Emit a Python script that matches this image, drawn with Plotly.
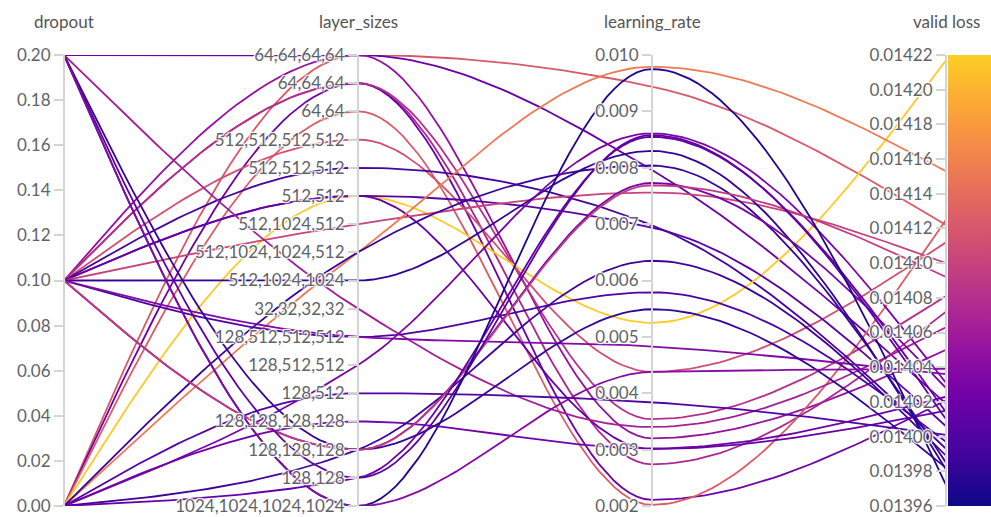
import numpy as np
import plotly.graph_objects as go
from plotly.colors import sample_colorscale

# ---- data -------------------------------------------------------------
axis_names = ["dropout", "layer_sizes", "learning_rate", "valid loss"]

# layer_sizes categories, listed from the top of the axis to the bottom
layer_order = [
    "64,64,64,64", "64,64,64", "64,64",
    "512,512,512,512", "512,512,512", "512,512",
    "512,1024,512", "512,1024,1024,512", "512,1024,1024",
    "32,32,32,32", "128,512,512,512", "128,512,512", "128,512",
    "128,128,128,128", "128,128,128", "128,128",
    "1024,1024,1024,1024",
]

dropout = [0.0, 0.2, 0.1, 0.1, 0.0, 0.1, 0.0, 0.1, 0.1, 0.0,
           0.1, 0.1, 0.1, 0.0, 0.0, 0.1, 0.2, 0.1, 0.1, 0.0,
           0.0, 0.0, 0.2, 0.1, 0.0, 0.1, 0.2, 0.0, 0.2, 0.2]

layer_sizes = [
    "64,64,64,64", "64,64,64,64", "64,64,64,64", "64,64,64", "64,64,64",
    "64,64,64", "64,64", "512,512,512,512", "512,512,512", "512,512",
    "512,512", "512,512", "512,1024,512", "512,1024,1024,512", "512,1024,1024,512",
    "512,1024,1024", "32,32,32,32", "128,512,512,512", "128,512,512,512", "128,512,512",
    "128,512", "128,128,128,128", "128,128,128", "128,128,128", "128,128,128",
    "128,128,128", "128,128", "128,128", "1024,1024,1024,1024", "1024,1024,1024,1024",
]

learning_rate = [0.00944, 0.00796, 0.00320, 0.00274, 0.00211, 0.00354, 0.00202, 0.00438, 0.00698, 0.00525,
                 0.00694, 0.00301, 0.00756, 0.00979, 0.00804, 0.00830, 0.00340, 0.00579, 0.00483, 0.00861,
                 0.00384, 0.00302, 0.00549, 0.00773, 0.00635, 0.00769, 0.00858, 0.00855, 0.00975, 0.00438]

valid_loss = [0.014122, 0.014019, 0.014050, 0.014072, 0.014021, 0.014081, 0.014125, 0.014112, 0.013993, 0.014217,
              0.014006, 0.014015, 0.014100, 0.014153, 0.013985, 0.013981, 0.014063, 0.013997, 0.014036, 0.014031,
              0.014001, 0.014023, 0.013982, 0.014028, 0.013989, 0.014092, 0.014010, 0.014014, 0.013972, 0.014039]

dropout_range = [0.0, 0.2]
lr_range = [0.002, 0.010]
loss_range = [0.01396, 0.01422]

# ---- styling ----------------------------------------------------------
FONT = "Lato"
TICK_COLOR = "#5f6368"
AXIS_LINE = "#d4d4d4"
n_cat = len(layer_order)

# plasma, stopping short of its palest yellow
steps = [i / 20 for i in range(21)]
loss_scale = [[s, c] for s, c in zip(steps, sample_colorscale("Plasma", [0.9 * s for s in steps]))]


def norm(v, lo, hi):
    return (v - lo) / (hi - lo)


def monotone_curve(ys, samples=40):
    """Monotone cubic (Steffen) interpolation through points at x = 0, 1, 2, ..."""
    ys = np.asarray(ys, dtype=float)
    n = len(ys)
    secant = np.diff(ys)
    tang = np.zeros(n)
    for i in range(1, n - 1):
        s0, s1 = secant[i - 1], secant[i]
        p = 0.5 * (s0 + s1)
        tang[i] = (np.sign(s0) + np.sign(s1)) * min(abs(s0), abs(s1), 0.5 * abs(p))
    tang[0] = (3 * secant[0] - tang[1]) / 2
    tang[-1] = (3 * secant[-1] - tang[-2]) / 2
    xs_out, ys_out = [], []
    t = np.linspace(0, 1, samples)
    h00 = 2 * t**3 - 3 * t**2 + 1
    h10 = t**3 - 2 * t**2 + t
    h01 = -2 * t**3 + 3 * t**2
    h11 = t**3 - t**2
    for i in range(n - 1):
        seg = h00 * ys[i] + h10 * tang[i] + h01 * ys[i + 1] + h11 * tang[i + 1]
        xs_out.extend((i + t).tolist())
        ys_out.extend(seg.tolist())
    return xs_out, ys_out


fig = go.Figure()

# one smooth curve per run, coloured by its validation loss
for d, ls, lr, loss in zip(dropout, layer_sizes, learning_rate, valid_loss):
    cat_pos = (n_cat - 1 - layer_order.index(ls)) / (n_cat - 1)
    ys = [norm(d, *dropout_range), cat_pos, norm(lr, *lr_range), norm(loss, *loss_range)]
    cx, cy = monotone_curve(ys)
    colour = sample_colorscale(loss_scale, [norm(loss, *loss_range)])[0]
    fig.add_trace(go.Scatter(
        x=cx, y=cy, mode="lines",
        line=dict(color=colour, width=1.8),
        hoverinfo="skip", showlegend=False,
    ))

# invisible anchors so each overlaid axis owns a trace
for ax, rng in (("y2", dropout_range), ("y3", [0, n_cat - 1]), ("y4", lr_range), ("y5", loss_range)):
    fig.add_trace(go.Scatter(x=[0, 0], y=rng, yaxis=ax, mode="markers",
                             marker=dict(opacity=0), hoverinfo="skip", showlegend=False))

# colour scale for valid loss
fig.add_trace(go.Scatter(
    x=[None], y=[None], mode="markers", showlegend=False, hoverinfo="skip",
    marker=dict(
        colorscale=loss_scale, cmin=loss_range[0], cmax=loss_range[1], color=[loss_range[0]],
        showscale=True,
        colorbar=dict(x=1.002, xanchor="left", xpad=0, ypad=0, y=0.5, yanchor="middle",
                      len=1, lenmode="fraction", thickness=44, thicknessmode="pixels",
                      outlinewidth=0, showticklabels=False, ticks=""),
    ),
))

tickfont = dict(family=FONT, size=17, color=TICK_COLOR,
                shadow="1px 1px 1px #fff, -1px -1px 1px #fff, 1px -1px 1px #fff, -1px 1px 1px #fff")
common = dict(overlaying="y", anchor="free", side="left", showgrid=False, zeroline=False,
              showline=True, linecolor=AXIS_LINE, linewidth=2, ticks="outside", ticklen=9,
              tickwidth=2, tickcolor=AXIS_LINE, tickfont=tickfont, fixedrange=True,
              layer="above traces", automargin=False)

fig.update_layout(
    width=991, height=517,
    margin=dict(l=64, r=45, t=55, b=11, autoexpand=False),
    paper_bgcolor="white", plot_bgcolor="white",
    xaxis=dict(range=[0, 3], visible=False, fixedrange=True, automargin=False),
    yaxis=dict(range=[0, 1], visible=False, fixedrange=True, automargin=False),
    yaxis2=dict(position=0, range=dropout_range, dtick=0.02, tick0=0, tickformat=".2f", **common),
    yaxis3=dict(position=1 / 3, range=[0, n_cat - 1],
                tickmode="array", tickvals=list(range(n_cat - 1, -1, -1)), ticktext=layer_order, **common),
    yaxis4=dict(position=2 / 3, range=lr_range, dtick=0.001, tick0=0.002, tickformat=".3f", **common),
    yaxis5=dict(position=1, range=loss_range, dtick=0.00002, tick0=0.01396, tickformat=".5f", **common),
    showlegend=False,
)

# axis titles above each axis
for i, name in enumerate(axis_names):
    fig.add_annotation(text=name, x=i / 3, xref="paper", y=1, yref="paper", yshift=34,
                       xanchor="center", yanchor="middle", showarrow=False,
                       font=dict(family=FONT, size=17, color="#555"))

fig.write_html("out.html")
